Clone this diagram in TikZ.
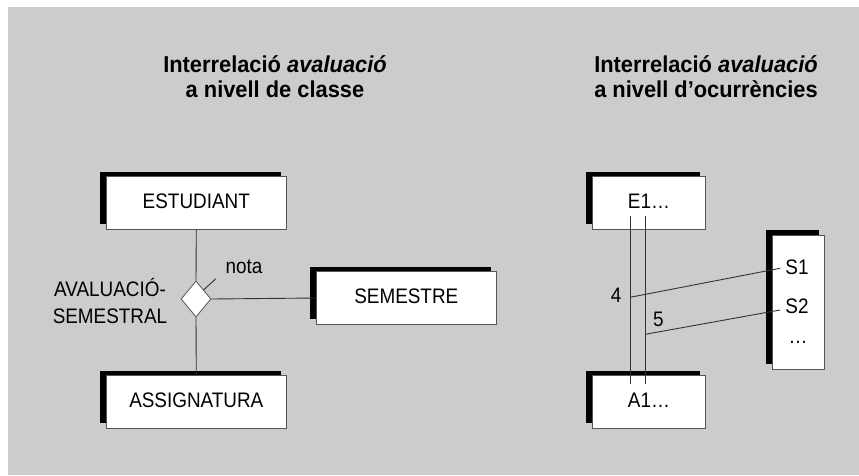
\documentclass[tikz,border=0pt]{standalone}
\usepackage{fontspec}
\setmainfont{Liberation Sans}
\newfontfamily\bodyfont{Liberation Sans}[FakeStretch=0.9]
\newfontfamily\headfont{Liberation Sans}[FakeStretch=0.95]
\usetikzlibrary{shapes.geometric,shadows,calc}
\definecolor{bg}{RGB}{204,204,204}
\definecolor{boxline}{RGB}{85,85,85}
\definecolor{conn}{RGB}{50,50,50}
\begin{document}
\begin{tikzpicture}[x=1pt,y=-1pt,
  ent/.style={draw=boxline,line width=0.8pt,fill=white,inner sep=0pt,
    minimum height=52.6pt,font=\bodyfont\fontsize{21}{26}\selectfont,
    text height=15pt,text depth=5pt,
    general shadow={fill=black,shadow xshift=-6pt,shadow yshift=5pt}},
  wide/.style={ent,minimum width=180.7pt},
  narrow/.style={ent,minimum width=113.4pt},
  rel/.style={diamond,draw=boxline,line width=0.8pt,fill=white,inner sep=0pt,
    minimum width=30pt,minimum height=36pt},
  conn/.style={draw=conn,line width=0.9pt},
  lbl/.style={inner sep=1pt,font=\bodyfont\fontsize{21}{26}\selectfont},
  title/.style={anchor=base,inner sep=0pt,font=\headfont\fontsize{23}{25}\selectfont\bfseries}
]
\useasboundingbox (0,0) rectangle (859,475);
\fill[bg] (8,7) rectangle (859,475);

% titles
\node[title] (t1a) at (275,72.7) {Interrelació \textit{avaluació}};
\node[title] (t1b) at (275,97.7) {a nivell de classe};
\node[title] (t2a) at (706,72.7) {Interrelació \textit{avaluació}};
\node[title] (t2b) at (706,97.7) {a nivell d’ocurrències};

% class level
\node[wide] (est) at (196.3,203) {ESTUDIANT};
\node[wide] (asg) at (196.3,402) {ASSIGNATURA};
\node[wide] (sem) at (406.3,298) {SEMESTRE};
\node[rel] (dia) at (196,299) {};
\draw[conn] (est.south) -- (dia.north);
\draw[conn] (dia.south) -- (asg.north);
\draw[conn] (dia.east) -- (sem.west);
\node[lbl,anchor=base] (r1) at (110,296) {AVALUACIÓ-};
\node[lbl,anchor=base] (r2) at (110,323.3) {SEMESTRAL};
\coordinate (tick) at ($(dia.north)!0.5!(dia.east)$);
\coordinate (tickend) at ($(tick)+(12,-11)$);
\draw[conn] (tick) -- (tickend);
\node[lbl,anchor=base] (nota) at (244,273.3) {nota};

% occurrence level
\node[narrow] (e1) at (649,203) {E1…};
\node[narrow] (a1) at (649,402) {A1…};
\node[ent,minimum width=52.3pt,minimum height=134pt] (sbox) at (798.5,302.3) {};
\node[lbl,anchor=base] (s1) at (797,274) {S1};
\node[lbl,anchor=base] (s2) at (797,313.5) {S2};
\node[lbl,anchor=base] (sdots) at (798,343) {…};

\coordinate (v1top) at (630,216);
\coordinate (v1bot) at (630,384);
\coordinate (v2top) at (645.3,216);
\coordinate (v2bot) at (645.3,384);
\draw[conn] (v1top) -- (v1bot);
\draw[conn] (v2top) -- (v2bot);
\coordinate (p4) at (630,297.3);
\coordinate (p5) at (645.3,334.3);
\coordinate (q4) at (780,268.3);
\coordinate (q5) at (780,310);
\draw[conn] (p4) -- (q4);
\draw[conn] (p5) -- (q5);
\node[lbl,anchor=base] (n4) at (616,302.3) {4};
\node[lbl,anchor=base] (n5) at (658.3,326.3) {5};
\end{tikzpicture}
\end{document}
